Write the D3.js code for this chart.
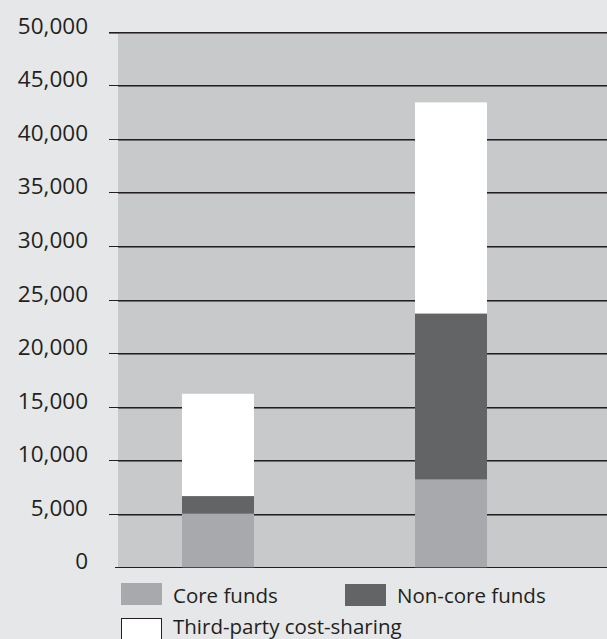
<!DOCTYPE html>
<html>
<head>
<meta charset="utf-8">
<script src="https://cdn.jsdelivr.net/npm/d3@7/dist/d3.min.js"></script>
<style>
  html, body { margin: 0; padding: 0; background: #e6e7e8; }
  svg { display: block; font-family: "Open Sans", "Noto Sans", sans-serif; }
</style>
</head>
<body>
<svg id="chart" width="607" height="639"></svg>
<script>
// Funding by source for two periods (stacked)
const categories = ["A", "B"];
const seriesNames = ["Core funds", "Non-core funds", "Third-party cost-sharing"];
const coreFunds = [5000, 8200];
const nonCoreFunds = [1650, 15500];
const thirdParty = [9550, 19700];
const yTicks = [0, 5000, 10000, 15000, 20000, 25000, 30000, 35000, 40000, 45000, 50000];

const colors = ["#a7a9ac", "#636466", "#ffffff"];

const svg = d3.select("#chart");
const W = 607;
const plotLeft = 118, plotTop = 32, plotBottom = 567.3;

const y = d3.scaleLinear().domain([0, 50000]).range([plotBottom, 31.7]);
const x = d3.scalePoint().domain(categories).range([218, 451]);
const barW = 72;

// plot background
svg.append("rect")
  .attr("x", plotLeft).attr("y", plotTop)
  .attr("width", W - plotLeft).attr("height", plotBottom - plotTop)
  .attr("fill", "#c8c9cb");

// gridlines
const grid = svg.append("g");
yTicks.forEach(t => {
  const yy = Math.round(y(t));
  const x0 = t === 0 ? 115 : 109;
  grid.append("line")
    .attr("x1", x0).attr("x2", W)
    .attr("y1", yy + 0.5).attr("y2", yy + 0.5)
    .attr("stroke", "#231f20").attr("stroke-width", 1);
  if (t !== 0) {
    grid.append("line")
      .attr("x1", t === 50000 ? x0 : plotLeft).attr("x2", W)
      .attr("y1", yy + 1.5).attr("y2", yy + 1.5)
      .attr("stroke", "#6d6e71").attr("stroke-width", 1);
  }
});

// y axis labels
const fmt = d3.format(",");
svg.append("g").selectAll("text")
  .data(yTicks)
  .join("text")
  .attr("x", 88)
  .attr("y", d => y(d) + 2)
  .attr("text-anchor", "end")
  .attr("font-size", 22.5)
  .attr("fill", "#231f20")
  .text(d => fmt(d));

// stacked bars
const table = categories.map((c, i) => ({
  cat: c,
  [seriesNames[0]]: coreFunds[i],
  [seriesNames[1]]: nonCoreFunds[i],
  [seriesNames[2]]: thirdParty[i]
}));
const stacked = d3.stack().keys(seriesNames)(table);

svg.append("g").selectAll("g")
  .data(stacked)
  .join("g")
  .attr("fill", (d, i) => colors[i])
  .selectAll("rect")
  .data(d => d)
  .join("rect")
  .attr("x", d => x(d.data.cat) - barW / 2)
  .attr("width", barW)
  .attr("y", d => y(d[1]))
  .attr("height", d => y(d[0]) - y(d[1]));

// legend
const legendItems = [
  { name: seriesNames[0], color: colors[0], x: 121, y: 583, base: 603 },
  { name: seriesNames[1], color: colors[1], x: 345, y: 584, base: 603 },
  { name: seriesNames[2], color: colors[2], x: 121, y: 618, base: 634 }
];
const lg = svg.append("g");
legendItems.forEach((d, i) => {
  lg.append("rect")
    .attr("x", i === 2 ? d.x + 0.5 : d.x)
    .attr("y", i === 2 ? d.y + 0.5 : d.y)
    .attr("width", i === 2 ? 40 : 41)
    .attr("height", i === 2 ? 30 : 22)
    .attr("fill", d.color)
    .attr("stroke", i === 2 ? "#231f20" : "none")
    .attr("stroke-width", 1);
  lg.append("text")
    .attr("x", d.x + 52)
    .attr("y", d.base)
    .attr("font-size", 20.5)
    .attr("fill", "#231f20")
    .text(d.name);
});
</script>
</body>
</html>
